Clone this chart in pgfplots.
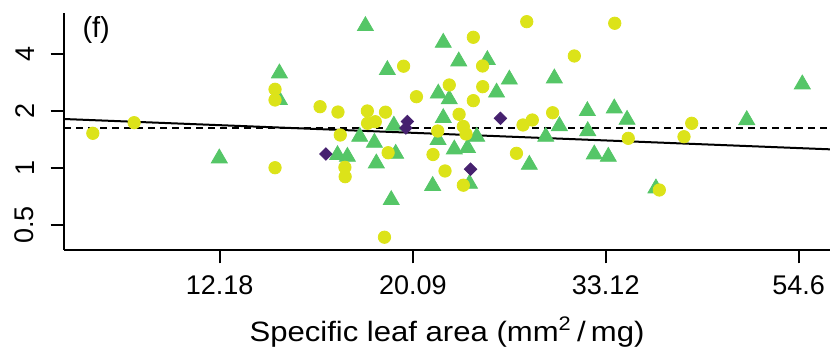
\documentclass[border=0pt]{standalone}
\usepackage{fontspec}
\setmainfont{Liberation Sans}
\usepackage{pgfplots}
\pgfplotsset{compat=1.18}
\usepackage{pgfplotstable}
\definecolor{cyel}{HTML}{DCE319}
\definecolor{cgrn}{HTML}{55C667}
\definecolor{cpur}{HTML}{46216F}
\pgfplotstableread{
x y
8.77 1.532
9.76 1.743
14.06 2.618
14.06 2.298
14.06 1.007
15.80 2.118
16.55 1.985
16.65 1.500
16.85 1.012
16.86 0.903
17.86 2.010
17.87 1.730
18.23 1.764
18.72 1.981
18.85 1.209
18.67 0.432
19.62 3.468
20.28 2.392
26.99 5.965
33.90 5.85
23.50 4.932
30.53 3.928
24.07 3.477
22.08 2.759
24.08 2.702
23.50 2.279
22.65 1.931
28.86 1.968
27.38 1.801
26.73 1.695
22.90 1.664
21.43 1.575
23.06 1.519
41.38 1.730
35.11 1.441
40.56 1.469
21.17 1.183
26.28 1.200
21.84 0.968
22.90 0.814
38.05 0.768
}\yellowdata
\pgfplotstableread{
x y
14.22 3.182
14.22 2.298
12.17 1.130
17.77 5.66
18.81 3.312
19.13 1.684
17.51 1.470
18.19 1.366
16.53 1.176
16.96 1.152
18.28 1.063
19.22 1.195
19.00 0.680
21.74 4.619
22.63 3.682
24.37 3.741
25.80 2.950
28.99 2.993
55.11 2.783
21.46 2.488
22.08 2.321
24.96 2.518
21.74 1.846
31.58 2.010
33.86 2.077
35.00 1.808
47.72 1.801
29.37 1.674
31.61 1.575
28.35 1.470
23.71 1.470
21.45 1.412
22.37 1.260
23.15 1.281
32.15 1.186
33.34 1.152
27.17 1.045
21.15 0.808
23.27 0.829
37.72 0.784
}\greendata
\pgfplotstableread{
x y
16.04 1.190
19.81 1.768
19.74 1.634
25.21 1.839
23.33 0.989
}\purpledata
\begin{document}
\begin{tikzpicture}
\begin{axis}[
  scale only axis, width=383pt, height=118.5pt,
  xmode=log, ymode=log,
  xmin=8.139, xmax=59.21, ymin=0.3698, ymax=6.63,
  axis x line*=bottom, axis y line*=left,
  axis line style={-, line width=1pt},
  xtick={12.18,20.09,33.12,54.6}, xticklabels={12.18,20.09,33.12,54.6},
  ytick={0.5,1,2,4}, yticklabels={0.5,1,2,4},
  minor xtick={}, minor ytick={},
  tick align=outside, major tick length=6.75pt,
  tick style={black, line width=1pt},
  /pgf/number format/assume math mode=true,
  ticklabel style={font=\fontsize{13.5}{16}\selectfont},
  xticklabel style={inner sep=0pt, anchor=north, yshift=-6pt},
  yticklabel style={rotate=90, inner sep=0pt, anchor=south, yshift=8pt},
  xlabel={\scalebox{1.11}[1]{Specific leaf area (mm\textsuperscript{2}\,/\,mg)}},
  xlabel style={font=\fontsize{14}{17}\selectfont, inner sep=0pt, anchor=base, at={(axis description cs:0.5,0)}, yshift=-45.6pt},
  clip=false,
]
\addplot[only marks, mark=triangle*, mark size=4.6pt, cgrn, mark options={draw=cgrn, fill=cgrn}] table[x=x,y=y] {\greendata};
\addplot[only marks, mark=*, mark size=3.1pt, cyel, mark options={draw=cyel, fill=cyel}] table[x=x,y=y] {\yellowdata};
\addplot[only marks, mark=square*, mark size=2.2pt, cpur, mark options={draw=cpur, fill=cpur, rotate=45}] table[x=x,y=y] {\purpledata};
\addplot[black, line width=1pt, dash pattern=on 3.5pt off 2.5pt] coordinates {(8.139,1.634) (59.21,1.634)};
\addplot[black, line width=1pt] coordinates {(8.139,1.823) (59.21,1.26)};
\node[font=\fontsize{14.5}{17}\selectfont, anchor=center] at (rel axis cs:0.042,0.928) {(f)};
\end{axis}
\pgfresetboundingbox
\path ([xshift=-32pt,yshift=-51pt]current axis.south west) rectangle ([yshift=6.5pt]current axis.north east);
\end{tikzpicture}
\end{document}
